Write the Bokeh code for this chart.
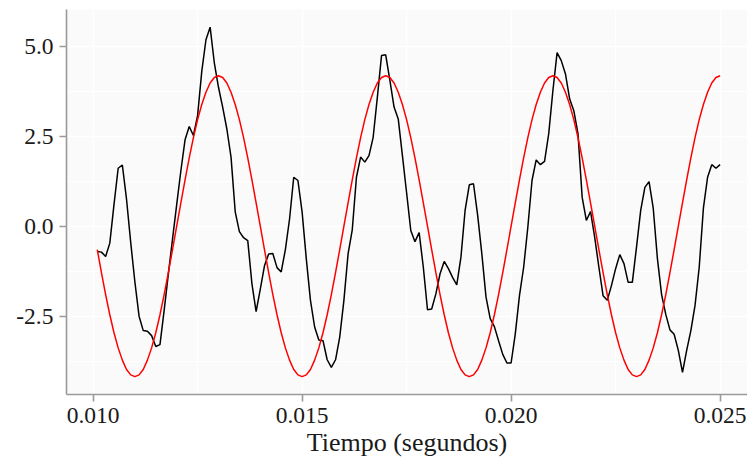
import numpy as np
from bokeh.plotting import figure
from bokeh.models import Range1d, FixedTicker, PrintfTickFormatter
from bokeh.embed import file_html
from bokeh.resources import INLINE

# sampling grid (s)
t_start = 0.0101
t_step = 0.0001
n_samples = 150
tiempo = np.round(t_start + t_step * np.arange(n_samples), 6)

senal = [
    -0.70, -0.72, -0.84, -0.47, 0.60, 1.61, 1.70, 0.75, -0.45, -1.55,
    -2.50, -2.90, -2.92, -3.04, -3.34, -3.29, -2.34, -1.33, -0.36, 0.60,
    1.54, 2.40, 2.77, 2.52, 3.07, 4.30, 5.18, 5.53, 4.54, 3.86,
    3.31, 2.70, 1.92, 0.40, -0.15, -0.32, -0.40, -1.60, -2.37, -1.75,
    -1.10, -0.77, -0.76, -1.15, -1.27, -0.65, 0.20, 1.36, 1.27, 0.40,
    -0.90, -2.06, -2.80, -3.16, -3.18, -3.71, -3.92, -3.71, -3.08, -2.06,
    -0.77, -0.10, 1.36, 1.92, 1.78, 1.96, 2.47, 3.58, 4.74, 4.76,
    4.05, 3.31, 2.98, 1.96, 0.93, -0.12, -0.43, -0.18, -1.14, -2.32,
    -2.30, -1.88, -1.32, -0.98, -1.18, -1.42, -1.63, -0.86, 0.45, 1.15,
    1.18, 0.30, -0.77, -1.97, -2.57, -2.79, -3.18, -3.56, -3.80, -3.80,
    -2.99, -1.93, -1.14, -0.03, 1.27, 1.84, 1.71, 1.80, 2.57, 3.77,
    4.82, 4.60, 4.23, 3.54, 3.21, 2.57, 0.80, 0.16, 0.41, -0.31,
    -1.14, -1.93, -2.06, -1.65, -1.18, -0.79, -1.04, -1.56, -1.56, -0.58,
    0.44, 1.08, 1.24, 0.50, -0.90, -1.90, -2.45, -2.88, -3.00, -3.45,
    -4.06, -3.45, -2.90, -2.20, -1.14, 0.50, 1.36, 1.71, 1.61, 1.71,
]

ajuste = [
    -0.65, -1.29, -1.90, -2.46, -2.96, -3.38, -3.72, -3.98, -4.13, -4.18,
    -4.13, -3.98, -3.72, -3.38, -2.96, -2.46, -1.90, -1.29, -0.65, 0.00,
    0.65, 1.29, 1.90, 2.46, 2.96, 3.38, 3.72, 3.98, 4.13, 4.18,
    4.13, 3.98, 3.72, 3.38, 2.96, 2.46, 1.90, 1.29, 0.65, 0.00,
    -0.65, -1.29, -1.90, -2.46, -2.96, -3.38, -3.72, -3.98, -4.13, -4.18,
    -4.13, -3.98, -3.72, -3.38, -2.96, -2.46, -1.90, -1.29, -0.65, 0.00,
    0.65, 1.29, 1.90, 2.46, 2.96, 3.38, 3.72, 3.98, 4.13, 4.18,
    4.13, 3.98, 3.72, 3.38, 2.96, 2.46, 1.90, 1.29, 0.65, 0.00,
    -0.65, -1.29, -1.90, -2.46, -2.96, -3.38, -3.72, -3.98, -4.13, -4.18,
    -4.13, -3.98, -3.72, -3.38, -2.96, -2.46, -1.90, -1.29, -0.65, 0.00,
    0.65, 1.29, 1.90, 2.46, 2.96, 3.38, 3.72, 3.98, 4.13, 4.18,
    4.13, 3.98, 3.72, 3.38, 2.96, 2.46, 1.90, 1.29, 0.65, 0.00,
    -0.65, -1.29, -1.90, -2.46, -2.96, -3.38, -3.72, -3.98, -4.13, -4.18,
    -4.13, -3.98, -3.72, -3.38, -2.96, -2.46, -1.90, -1.29, -0.65, 0.00,
    0.65, 1.29, 1.90, 2.46, 2.96, 3.38, 3.72, 3.98, 4.13, 4.18,
]

x_ticks = [0.010, 0.015, 0.020, 0.025]
x_tick_labels = ["0.010", "0.015", "0.020", "0.025"]
x_minor = [0.0125, 0.0175, 0.0225]
y_ticks = [-2.5, 0.0, 2.5, 5.0]
y_tick_labels = ["-2.5", "0.0", "2.5", "5.0"]
y_minor = [-3.75, -1.25, 1.25, 3.75]
x_label = "Tiempo (segundos)"

FONT = "Liberation Serif"
AXIS_COLOR = "#9A9A9A"

p = figure(
    frame_width=681, frame_height=385,
    x_range=Range1d(0.009364, 0.025655),
    y_range=Range1d(-4.675, 6.02),
    output_backend="svg", toolbar_location=None,
    min_border_left=66, min_border_right=0, min_border_top=9, min_border_bottom=0,
)
p.background_fill_color = "#FAFAFA"
p.border_fill_color = "white"
p.outline_line_color = None

p.xaxis.ticker = FixedTicker(ticks=x_ticks, minor_ticks=x_minor)
p.yaxis.ticker = FixedTicker(ticks=y_ticks, minor_ticks=y_minor)
p.xaxis.formatter = PrintfTickFormatter(format="%.3f")
p.yaxis.formatter = PrintfTickFormatter(format="%.1f")
p.xaxis.major_label_overrides = dict(zip(x_ticks, x_tick_labels))
p.yaxis.major_label_overrides = dict(zip(y_ticks, y_tick_labels))

for ax in (p.xaxis, p.yaxis):
    ax.axis_line_color = AXIS_COLOR
    ax.axis_line_width = 1.6
    ax.major_tick_line_color = AXIS_COLOR
    ax.major_tick_line_width = 1.6
    ax.major_tick_out = 7
    ax.major_tick_in = 0
    ax.minor_tick_line_color = None
    ax.major_label_text_font = FONT
    ax.major_label_text_font_size = "23.5px"
    ax.major_label_text_color = "#1A1A1A"
    ax.major_label_standoff = 6

p.xaxis.axis_label = x_label
p.xaxis.axis_label_text_font = FONT
p.xaxis.axis_label_text_font_size = "26px"
p.xaxis.axis_label_text_font_style = "normal"
p.xaxis.axis_label_text_color = "#1A1A1A"
p.xaxis.axis_label_standoff = 2

for g in (p.xgrid, p.ygrid):
    g.grid_line_color = "white"
    g.grid_line_width = 1.5
    g.minor_grid_line_color = "white"
    g.minor_grid_line_width = 1.0

p.line(tiempo, senal, line_color="black", line_width=1.5)
p.line(tiempo, ajuste, line_color="red", line_width=1.5)

open("out.html", "w").write(file_html(p, INLINE))
